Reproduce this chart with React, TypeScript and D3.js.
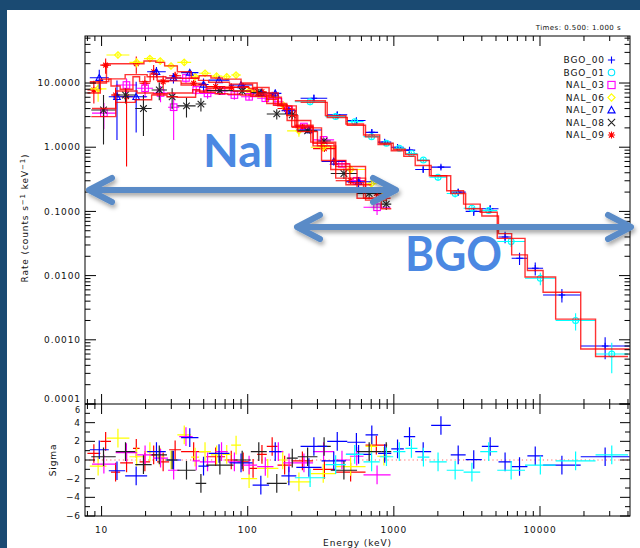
import React from 'react';
import * as d3 from 'd3';

// ---------------- data ----------------
// NAL_09 (red, asterisk)
const nal09Edges = [8, 9.8, 11.6, 13.4, 16.4, 18.2, 21.5, 24, 29, 35, 52, 70, 85, 102, 116, 135, 160, 200, 280, 400, 640, 900];
const nal09Rate = [7.8, 19, 6.5, 6.1, 20, 9.9, 15, 10.5, 13, 9.9, 8.8, 8.6, 8.8, 7.4, 7.3, 6.5, 4.0, 2.05, 0.95, 0.3, 0.19];
const nal09Err = [3, 5, 2, 5.6, 6, 3, 4, 2.5, 2, 1.3, 1.2, 1.3, 1.1, 1, 0.9, 0.6, 0.4, 0.2, 0.06, 0.03, 0.04];
const nal09Model = [7.0, 11.5, 9.0, 8.0, 12.5, 10.5, 13.8, 11.0, 10.8, 9.3, 8.7, 8.6, 8.6, 8.2, 6.7, 5.6, 4.4, 2.1, 1.05, 0.33, 0.15];
const nal09Resid = [0.7, 2.0, -1.3, -0.3, 1.25, -0.2, 0.55, -0.2, 1.1, 0.9, 0.35, 0, -0.2, -0.9, 0.6, 1.45, -0.55, -0.1, -1.0, -1.3, 1.6];

// NAL_06 (yellow, diamond)
const nal06Edges = [8.3, 10.8, 15.5, 19.5, 23.5, 27, 33, 41, 46.5, 56, 67, 77, 90, 116, 162, 186, 270, 400, 640, 770, 950];
const nal06Rate = [8.1, 27.3, 21, 24, 22, 18.4, 21, 12.5, 14.2, 12.8, 12.5, 13.3, 7.5, 6.0, 4.6, 1.8, 1.0, 0.45, 0.27, 0.2];
const nal06Err = [3, 3, 3.5, 2.5, 2.5, 2, 2.2, 1.6, 1.5, 1.4, 1.3, 1.1, 1.2, 1.0, 0.6, 0.35, 0.14, 0.07, 0.04, 0.05];
const nal06Model = [10, 20, 20, 22, 21, 18.5, 15, 12, 13, 12, 11.5, 11.5, 10, 7, 4.6, 2.6, 1.2, 0.5, 0.22, 0.18];
const nal06Resid = [-0.65, 2.35, 0.35, 0.9, 0.3, 0, 2.7, 0.3, 0.9, 0.55, 0.6, 1.6, -2.0, -0.9, 0, -2.35, -1.45, -0.7, 1.45, 0.4];

// NAL_07 (blue, triangle)
const nal07Edges = [8.3, 11.2, 14.5, 20.5, 27.5, 35, 46, 54, 75, 108, 140, 170, 215, 320, 470, 700];
const nal07Rate = [12.1, 6.1, 6.1, 15, 12, 14.5, 9.5, 11.1, 9.3, 7.0, 6.9, 3.7, 1.85, 0.6, 0.29];
const nal07Err = [4, 4.8, 4.4, 2.8, 2.2, 1.1, 2.3, 0.6, 1.0, 0.55, 1.0, 0.4, 0.2, 0.08, 0.05];
const nal07Model = [10.5, 11.6, 13.5, 12.5, 12, 11.8, 11, 10.3, 9.6, 8.5, 6.0, 4.4, 2.0, 0.62, 0.26];
const nal07Resid = [1.1, -1.15, -1.7, 0.9, 0, 2.4, -0.65, 0.7, -0.3, -2.7, 0.9, -1.7, -0.8, -0.1, 0.6];

// NAL_08 (black, cross)
const nal08Edges = [8.5, 12.5, 17, 22, 28, 33, 44, 52, 80, 105, 135, 185, 220, 300, 370, 560, 820, 960];
const nal08Rate = [3.8, 6.5, 4.0, 7.8, 6.1, 4.4, 4.7, 7.6, 7.5, 7.1, 3.3, 3.2, 1.8, 1.25, 0.39, 0.19, 0.13];
const nal08Err = [2.7, 1.7, 2.5, 2.4, 2.2, 1.5, 1.1, 1.1, 1.0, 1.0, 0.6, 0.5, 0.15, 0.13, 0.07, 0.035, 0.025];
const nal08Model = [3.0, 5.0, 5.5, 6.5, 6.1, 6.0, 7.5, 8.2, 7.5, 6.2, 4.8, 3.1, 1.75, 1.05, 0.45, 0.16, 0.11];
const nal08Resid = [0.35, 0.9, -0.5, 0.55, 0, -1.1, -2.5, -0.55, 0, 0.9, -2.5, 0.2, 0.35, 1.45, -1.1, 0.9, 0.9];

// NAL_03 (magenta, square)
const nal03Edges = [8.6, 12.5, 17.5, 22.5, 28.5, 34, 42, 47, 60, 73, 90, 116, 150, 175, 210, 280, 390, 500, 620, 950];
const nal03Rate = [3.4, 9.3, 8.3, 7.0, 4.2, 12, 7.8, 6.9, 7.5, 6.5, 6.1, 5.8, 5.1, 3.8, 2.1, 1.3, 0.55, 0.3, 0.116];
const nal03Err = [1.5, 2.5, 2.4, 2.0, 2.9, 2.0, 1.2, 1.2, 0.8, 1.0, 0.7, 0.7, 0.6, 0.4, 0.2, 0.16, 0.06, 0.04, 0.028];
const nal03Model = [4.0, 7.5, 7.0, 6.8, 7.0, 7.0, 7.9, 7.2, 6.8, 6.7, 6.5, 6.3, 4.5, 3.9, 2.2, 1.15, 0.55, 0.28, 0.16];
const nal03Resid = [-0.45, 0.8, 0.55, 0.2, -1.1, 2.5, -0.1, -0.2, 0.9, -0.2, -0.55, -0.7, 0.9, -0.3, -0.3, 0.9, 0, 0.4, -1.6];

// BGO_01 (cyan, circle)
const bgo01Edges = [210, 340, 470, 620, 800, 990, 1200, 1450, 1750, 2300, 3000, 3900, 5100, 7900, 12800, 24000, 40000];
const bgo01Rate = [5.1, 3.0, 2.5, 1.46, 1.15, 0.96, 0.80, 0.63, 0.34, 0.19, 0.112, 0.103, 0.034, 0.0091, 0.002, 0.0006];
const bgo01Err = [0.6, 0.35, 0.25, 0.12, 0.1, 0.07, 0.06, 0.05, 0.04, 0.025, 0.014, 0.012, 0.006, 0.002, 0.0006, 0.0003];
const bgo01Model = [5.3, 3.1, 2.3, 1.55, 1.15, 0.93, 0.77, 0.62, 0.36, 0.21, 0.13, 0.097, 0.038, 0.0095, 0.0021, 0.00055];
const bgo01Resid = [-1.9, -0.5, 0.6, -0.2, 0.35, 0.9, 1.25, 0.3, -0.2, -1.1, -1.3, 0.9, -1.1, -0.55, -0.1, 0.55];

// BGO_00 (blue, plus)
const bgo00Edges = [230, 350, 480, 640, 780, 960, 1170, 1400, 1800, 2450, 3100, 4000, 5200, 6400, 8200, 10500, 19000, 41000];
const bgo00Rate = [5.8, 3.2, 2.6, 1.7, 1.2, 1.0, 0.9, 0.45, 0.49, 0.2, 0.1, 0.11, 0.04, 0.0186, 0.013, 0.005, 0.0008];
const bgo00Err = [0.8, 0.4, 0.25, 0.2, 0.12, 0.1, 0.07, 0.05, 0.035, 0.025, 0.015, 0.015, 0.008, 0.004, 0.003, 0.0012, 0.0003];
const bgo00Model = [5.0, 2.9, 2.2, 1.45, 1.1, 0.88, 0.72, 0.52, 0.36, 0.19, 0.11, 0.085, 0.045, 0.021, 0.012, 0.0055, 0.00072];
const bgo00Resid = [1.45, 2.0, 1.9, 2.7, 0.7, 1.2, 2.5, 0.9, 3.7, 0.55, 0.05, 1.45, -0.2, -0.7, 0.45, -0.55, 0.35];

const legendNames = ['BGO_00', 'BGO_01', 'NAL_03', 'NAL_06', 'NAL_07', 'NAL_08', 'NAL_09'];
const legendColors = ['#0000ff', '#00e8ff', '#ff00ff', '#ffff00', '#0000ff', '#222222', '#ff0000'];
const legendMarkers = ['plus', 'circle', 'square', 'diamond', 'triangle', 'cross', 'star'];

const xTickLabels = ['10', '100', '1000', '10000'];
const yTickLabels = ['10.0000', '1.0000', '0.1000', '0.0100', '0.0010', '0.0001'];
const sigmaTicks = [6, 4, 2, 0, -2, -4, -6];

type Det = { name: string; color: string; marker: string; edges: number[]; rate: number[]; err: number[]; model: number[]; resid: number[] };

const detectors: Det[] = [
  { name: 'NAL_09', color: '#ff0000', marker: 'star', edges: nal09Edges, rate: nal09Rate, err: nal09Err, model: nal09Model, resid: nal09Resid },
  { name: 'NAL_06', color: '#ffff00', marker: 'diamond', edges: nal06Edges, rate: nal06Rate, err: nal06Err, model: nal06Model, resid: nal06Resid },
  { name: 'NAL_03', color: '#ff00ff', marker: 'square', edges: nal03Edges, rate: nal03Rate, err: nal03Err, model: nal03Model, resid: nal03Resid },
  { name: 'NAL_07', color: '#0000ff', marker: 'triangle', edges: nal07Edges, rate: nal07Rate, err: nal07Err, model: nal07Model, resid: nal07Resid },
  { name: 'NAL_08', color: '#222222', marker: 'cross', edges: nal08Edges, rate: nal08Rate, err: nal08Err, model: nal08Model, resid: nal08Resid },
  { name: 'BGO_00', color: '#0000ff', marker: 'plus', edges: bgo00Edges, rate: bgo00Rate, err: bgo00Err, model: bgo00Model, resid: bgo00Resid },
  { name: 'BGO_01', color: '#00ffff', marker: 'circle', edges: bgo01Edges, rate: bgo01Rate, err: bgo01Err, model: bgo01Model, resid: bgo01Resid },
];

// ---------------- layout ----------------
const W = 640, H = 548;
const X0 = 85, X1 = 630, YT = 36, YD = 404, YB = 516;
const xScale = d3.scaleLog().domain([7.7, 41300]).range([X0, X1]);
const yScale = d3.scaleLog().domain([1e-4, 54]).range([YD, YT]);
const sScale = d3.scaleLinear().domain([-6, 6]).range([YB, YD]);
const FONT = '"DejaVu Sans", sans-serif';

function Marker({ shape, x, y, color, r = 3.5 }: { shape: string; x: number; y: number; color: string; r?: number }) {
  const p = { stroke: color, strokeWidth: 1.1, fill: 'none' };
  switch (shape) {
    case 'plus':
      return <path d={`M${x - r},${y}H${x + r}M${x},${y - r}V${y + r}`} {...p} />;
    case 'circle':
      return <circle cx={x} cy={y} r={r * 0.9} {...p} />;
    case 'square':
      return <rect x={x - r} y={y - r} width={2 * r} height={2 * r} {...p} />;
    case 'diamond':
      return <path d={`M${x},${y - r}L${x + r},${y}L${x},${y + r}L${x - r},${y}Z`} {...p} />;
    case 'triangle':
      return <path d={`M${x},${y - r}L${x + r},${y + r * 0.8}L${x - r},${y + r * 0.8}Z`} {...p} />;
    case 'cross':
      return <path d={`M${x - r},${y - r}L${x + r},${y + r}M${x - r},${y + r}L${x + r},${y - r}`} {...p} />;
    case 'star': {
      const a = r * 0.72;
      return <path d={`M${x - r},${y}H${x + r}M${x},${y - r}V${y + r}M${x - a},${y - a}L${x + a},${y + a}M${x - a},${y + a}L${x + a},${y - a}`} {...p} />;
    }
  }
  return null;
}

function Arrow({ x1, x2, y }: { x1: number; x2: number; y: number }) {
  const back = 23, half = 12;
  const d = `M${x1 + 3},${y}H${x2 - 3}M${x1 + back},${y - half}L${x1},${y}L${x1 + back},${y + half}M${x2 - back},${y - half}L${x2},${y}L${x2 - back},${y + half}`;
  return <path d={d} stroke="#5a8bc7" strokeWidth={6} fill="none" strokeLinecap="round" strokeLinejoin="round" filter="url(#shadow)" />;
}

export default function App() {
  const xTicks = xScale.ticks();
  const yTicks = yScale.ticks();
  const isDecade = (v: number) => Math.abs(Math.log10(v) - Math.round(Math.log10(v))) < 1e-6;
  const stepLine = d3.line<[number, number]>().x(d => xScale(d[0])).y(d => yScale(d[1])).curve(d3.curveStepAfter);
  const sigmaAll = d3.range(-6, 7, 1);

  const tickPaths: string[] = [];
  xTicks.forEach(v => {
    const x = xScale(v);
    const L = isDecade(v) ? 10 : 5;
    tickPaths.push(`M${x},${YT}v${L}`);
    tickPaths.push(`M${x},${YB}v${-L}`);
    tickPaths.push(`M${x},${YD - L}v${2 * L}`);
  });
  yTicks.forEach(v => {
    const y = yScale(v);
    if (y < YT - 0.5 || y > YD + 0.5) return;
    const L = isDecade(v) ? 11 : 5.5;
    tickPaths.push(`M${X0},${y}h${L}`);
    tickPaths.push(`M${X1},${y}h${-L}`);
  });
  sigmaAll.forEach(v => {
    const y = sScale(v);
    const L = v % 2 === 0 ? 10 : 5;
    tickPaths.push(`M${X0},${y}h${L}`);
    tickPaths.push(`M${X1},${y}h${-L}`);
  });

  const txt = { fontFamily: FONT, fontSize: 9, letterSpacing: 0.9, fill: '#111' } as const;

  return (
    <div style={{ position: 'absolute', left: 0, top: 0 }}>
      <svg width={W} height={H} viewBox={`0 0 ${W} ${H}`} style={{ display: 'block' }}>
        <defs>
          <clipPath id="mainClip"><rect x={X0} y={YT} width={X1 - X0} height={YD - YT} /></clipPath>
          <clipPath id="resClip"><rect x={X0} y={YD} width={X1 - X0} height={YB - YD} /></clipPath>
          <filter id="shadow" x="-10%" y="-60%" width="120%" height="220%">
            <feDropShadow dx={1.5} dy={3} stdDeviation={2} floodColor="#000" floodOpacity={0.35} />
          </filter>
        </defs>
        <rect x={0} y={0} width={W} height={H} fill="#1a4a72" />
        <rect x={7} y={10} width={W - 7} height={H - 10} fill="#ffffff" />

        {/* main panel data */}
        <g clipPath="url(#mainClip)">
          {detectors.map(det => (
            <g key={det.name + 'd'} stroke={det.color} strokeWidth={1.1} fill="none">
              {det.rate.map((r, i) => {
                const lo = det.edges[i], hi = det.edges[i + 1];
                const xc = xScale(Math.sqrt(lo * hi));
                const yc = yScale(r);
                const yTop = yScale(r + det.err[i]);
                const yBot = yScale(Math.max(r - det.err[i], 1e-5));
                return (
                  <g key={i}>
                    <path d={`M${xScale(lo)},${yc}H${xScale(hi)}M${xc},${yTop}V${yBot}`} />
                    <Marker shape={det.marker} x={xc} y={yc} color={det.color} r={3.3} />
                  </g>
                );
              })}
            </g>
          ))}
          {detectors.map(det => {
            const pts: [number, number][] = det.model.map((m, i) => [det.edges[i], m] as [number, number]);
            pts.push([det.edges[det.edges.length - 1], det.model[det.model.length - 1]]);
            return <path key={det.name + 'm'} d={stepLine(pts) || ''} stroke="#ff0000" strokeOpacity={0.8} strokeWidth={1.4} fill="none" />;
          })}
        </g>

        {/* residual panel */}
        <g clipPath="url(#resClip)">
          <line x1={X0} x2={X1} y1={sScale(0)} y2={sScale(0)} stroke="#ff6a6a" strokeWidth={1.2} strokeDasharray="1.2 3" />
          {detectors.map(det => (
            <g key={det.name + 'r'} stroke={det.color} strokeWidth={1.2} fill="none">
              {det.resid.map((s, i) => {
                const lo = det.edges[i], hi = det.edges[i + 1];
                const xc = xScale(Math.sqrt(lo * hi));
                return <path key={i} d={`M${xScale(lo)},${sScale(s)}H${xScale(hi)}M${xc},${sScale(s + 1)}V${sScale(s - 1)}`} />;
              })}
            </g>
          ))}
        </g>

        {/* frame and ticks */}
        <rect x={X0} y={YT} width={X1 - X0} height={YB - YT} fill="none" stroke="#000" strokeWidth={1} />
        <line x1={X0} x2={X1} y1={YD} y2={YD} stroke="#000" strokeWidth={1} />
        <path d={tickPaths.join('')} stroke="#000" strokeWidth={1} fill="none" />

        {/* tick labels */}
        {yTickLabels.map(l => (
          <text key={l} x={81} y={yScale(+l) - (l === '0.0001' ? 5 : 0)} dy="0.35em" textAnchor="end" {...txt}>{l}</text>
        ))}
        {sigmaTicks.map(v => (
          <text key={'s' + v} x={81} y={sScale(v) + (v === 6 ? 6.5 : 0)} dy="0.35em" textAnchor="end" fontFamily={FONT} fontSize={v === 6 ? 8 : 9} letterSpacing={0.9} fill="#111">{v < 0 ? '\u2212' + Math.abs(v) : String(v)}</text>
        ))}
        {xTickLabels.map(l => (
          <text key={'x' + l} x={xScale(+l)} y={533} textAnchor="middle" {...txt}>{l}</text>
        ))}
        <text x={(X0 + X1) / 2} y={546} textAnchor="middle" {...txt}>Energy (keV)</text>
        <text transform="translate(28,218) rotate(-90)" textAnchor="middle" {...txt}>
          Rate (counts s<tspan dy={-3} fontSize={7}>−1</tspan><tspan dy={3}> keV</tspan><tspan dy={-3} fontSize={7}>−1</tspan><tspan dy={3}>)</tspan>
        </text>
        <text transform="translate(56,460) rotate(-90)" textAnchor="middle" {...txt}>Sigma</text>
        <text x={621} y={30} textAnchor="end" fontFamily={FONT} fontSize={7} letterSpacing={0.45} fill="#111">Times: 0.500: 1.000 s</text>

        {/* legend */}
        {legendNames.map((n, i) => (
          <g key={n}>
            <text x={605} y={60 + i * 12.5} dy="0.35em" textAnchor="end" {...txt}>{n}</text>
            <Marker shape={legendMarkers[i]} x={611.5} y={60 + i * 12.5} color={legendColors[i]} r={3.6} />
          </g>
        ))}

        {/* annotations */}
        <Arrow x1={89} x2={396} y={190} />
        <Arrow x1={297} x2={631} y={227} />
        <text x={203} y={167} fontFamily="Lato, 'Open Sans', sans-serif" fontWeight={700} fontSize={46} fill="#4b88e2" textLength={72} lengthAdjust="spacingAndGlyphs">NaI</text>
        <text x={405} y={271} fontFamily="Lato, 'Open Sans', sans-serif" fontWeight={700} fontSize={47} fill="#4b88e2" textLength={97} lengthAdjust="spacingAndGlyphs">BGO</text>
      </svg>
    </div>
  );
}
